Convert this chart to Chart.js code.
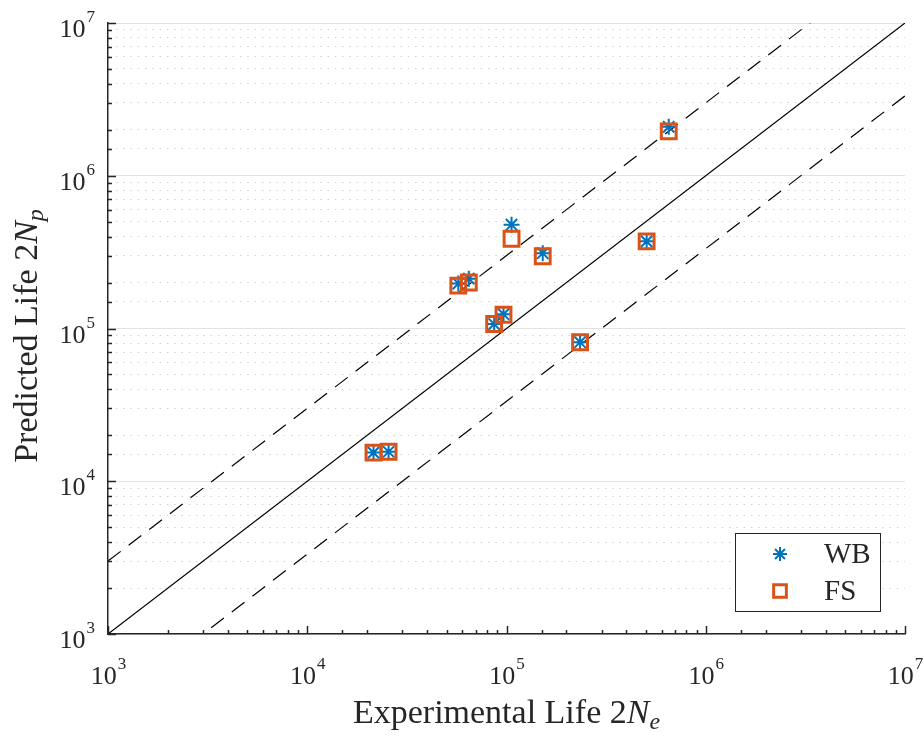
<!DOCTYPE html>
<html>
<head>
<meta charset="utf-8">
<script src="https://cdn.jsdelivr.net/npm/chart.js@4.4.1/dist/chart.umd.min.js"></script>
<style>
    html, body { margin: 0; padding: 0; background: #ffffff; }
    #lifeChart { display: block; }
</style>
</head>
<body>
<canvas id="lifeChart" width="924" height="738"></canvas>
<script>
// experimental life 2Ne (x) and predicted life 2Np (y)
const experimentalLife = [21500, 25600, 57300, 64700, 86700, 96600, 106000, 152000, 234000, 505000, 652000];
const predictedWB = [15400, 15600, 197000, 212000, 107000, 124000, 478000, 311000, 81300, 372000, 2090000];
const predictedFS = [15400, 15600, 191000, 200000, 107000, 123000, 387000, 297000, 81300, 372000, 1950000];
const seriesNames = ['WB', 'FS'];
const bandFactors = [1 / 3, 1, 3];
const axisRange = [1e3, 1e7];

const AXIS_COLOR = '#262626';
const SERIF = '"Liberation Serif", "Times New Roman", serif';
const WB_COLOR = '#0072BD';
const FS_COLOR = '#D95319';

function toPoints(xs, ys) {
    return xs.map(function(x, i) { return { x: x, y: ys[i] }; });
}

function bandLine(f) {
    return axisRange.map(function(v) { return { x: v, y: v * f }; });
}

function isDecade(v) {
    const l = Math.log10(v);
    return Math.abs(l - Math.round(l)) < 1e-9;
}

// "10" with a raised exponent
function drawPower(ctx, n, x, baseY, align) {
    ctx.font = '26px ' + SERIF;
    const w1 = ctx.measureText('10').width;
    ctx.font = '17px ' + SERIF;
    const w2 = ctx.measureText(String(n)).width;
    const start = align === 'right' ? x - w1 - w2 : x - (w1 + w2) / 2;
    ctx.textAlign = 'left';
    ctx.textBaseline = 'alphabetic';
    ctx.font = '26px ' + SERIF;
    ctx.fillText('10', start, baseY);
    ctx.font = '17px ' + SERIF;
    ctx.fillText(String(n), start + w1 + 1, baseY - 15);
}

// plain text + italic N + italic subscript, centered at x
function drawLifeTitle(ctx, text, sub, cx, baseY) {
    ctx.textAlign = 'left';
    ctx.textBaseline = 'alphabetic';
    ctx.font = '34px ' + SERIF;
    const w1 = ctx.measureText(text).width;
    ctx.font = 'italic 34px ' + SERIF;
    const w2 = ctx.measureText('N').width;
    ctx.font = 'italic 24px ' + SERIF;
    const w3 = ctx.measureText(sub).width;
    let x = cx - (w1 + w2 + w3) / 2;
    ctx.font = '34px ' + SERIF;
    ctx.fillText(text, x, baseY);
    x += w1;
    ctx.font = 'italic 34px ' + SERIF;
    ctx.fillText('N', x, baseY);
    x += w2;
    ctx.font = 'italic 24px ' + SERIF;
    ctx.fillText(sub, x, baseY + 6);
}

const decorations = {
    id: 'decorations',
    afterDraw: function(chart) {
        const ctx = chart.ctx;
        const area = chart.chartArea;
        const xs = chart.scales.x;
        const ys = chart.scales.y;
        ctx.save();

        // inward ticks
        ctx.strokeStyle = AXIS_COLOR;
        ctx.lineWidth = 1.5;
        ctx.beginPath();
        xs.ticks.forEach(function(t) {
            const px = Math.round(xs.getPixelForValue(t.value)) + 0.5;
            const len = isDecade(t.value) ? 8 : 4;
            ctx.moveTo(px, area.bottom);
            ctx.lineTo(px, area.bottom - len);
        });
        ys.ticks.forEach(function(t) {
            const py = Math.round(ys.getPixelForValue(t.value)) + 0.5;
            const len = isDecade(t.value) ? 8 : 4;
            ctx.moveTo(area.left, py);
            ctx.lineTo(area.left + len, py);
        });
        ctx.stroke();

        // tick labels
        ctx.fillStyle = AXIS_COLOR;
        xs.ticks.forEach(function(t) {
            if (!isDecade(t.value)) return;
            drawPower(ctx, Math.round(Math.log10(t.value)), xs.getPixelForValue(t.value), area.bottom + 50, 'center');
        });
        ys.ticks.forEach(function(t) {
            if (!isDecade(t.value)) return;
            drawPower(ctx, Math.round(Math.log10(t.value)), area.left - 14, ys.getPixelForValue(t.value) + 14, 'right');
        });

        // axis titles
        drawLifeTitle(ctx, 'Experimental Life 2', 'e', (area.left + area.right) / 2, 723);
        ctx.save();
        ctx.translate(37, 336);
        ctx.rotate(-Math.PI / 2);
        drawLifeTitle(ctx, 'Predicted Life 2', 'p', 0, 0);
        ctx.restore();

        // legend box
        const lx = 735.5, ly = 533.5, lw = 145, lh = 78;
        ctx.fillStyle = '#ffffff';
        ctx.fillRect(lx, ly, lw, lh);
        ctx.strokeStyle = AXIS_COLOR;
        ctx.lineWidth = 1;
        ctx.strokeRect(lx, ly, lw, lh);

        const sets = chart.data.datasets;
        const rows = [554, 591];
        for (let i = 0; i < 2; i++) {
            const ds = sets[i];
            ctx.strokeStyle = ds.pointBorderColor;
            ctx.fillStyle = 'rgba(0,0,0,0)';
            ctx.lineWidth = ds.pointBorderWidth;
            Chart.helpers.drawPoint(ctx, {
                pointStyle: ds.pointStyle,
                radius: i === 0 ? 7 : 9,
                rotation: 0,
                borderWidth: ds.pointBorderWidth
            }, 780, rows[i]);
            ctx.fillStyle = AXIS_COLOR;
            ctx.font = '29px ' + SERIF;
            ctx.textAlign = 'left';
            ctx.textBaseline = 'middle';
            ctx.fillText(ds.label, 824, rows[i] + 1);
        }
        ctx.restore();
    }
};

const lineStyle = {
    showLine: true,
    pointRadius: 0,
    borderColor: '#000000',
    borderWidth: 1.2,
    fill: false,
    order: 5
};

new Chart(document.getElementById('lifeChart').getContext('2d'), {
    type: 'scatter',
    data: {
        datasets: [
            {
                label: seriesNames[0],
                data: toPoints(experimentalLife, predictedWB),
                pointStyle: 'star',
                pointRadius: 8,
                pointBorderColor: WB_COLOR,
                pointBackgroundColor: WB_COLOR,
                pointBorderWidth: 2,
                order: 2
            },
            {
                label: seriesNames[1],
                data: toPoints(experimentalLife, predictedFS),
                pointStyle: 'rect',
                pointRadius: 10.5,
                pointBorderColor: FS_COLOR,
                pointBackgroundColor: 'rgba(0,0,0,0)',
                pointBorderWidth: 3,
                order: 1
            },
            Object.assign({ label: 'lower', data: bandLine(bandFactors[0]), borderDash: [16, 10] }, lineStyle),
            Object.assign({ label: 'equal', data: bandLine(bandFactors[1]) }, lineStyle),
            Object.assign({ label: 'upper', data: bandLine(bandFactors[2]), borderDash: [16, 10] }, lineStyle)
        ]
    },
    options: {
        responsive: false,
        devicePixelRatio: 1,
        animation: false,
        events: [],
        layout: { padding: { left: 108, top: 23, right: 19, bottom: 104 } },
        plugins: {
            legend: { display: false },
            tooltip: { enabled: false }
        },
        scales: {
            x: {
                type: 'logarithmic',
                min: axisRange[0],
                max: axisRange[1],
                afterFit: function(scale) { scale.height = 0; },
                ticks: { display: false, autoSkip: false },
                grid: { display: false, drawTicks: false },
                border: { display: true, color: AXIS_COLOR, width: 1.5 }
            },
            y: {
                type: 'logarithmic',
                min: axisRange[0],
                max: axisRange[1],
                afterFit: function(scale) { scale.width = 0; },
                ticks: { display: false, autoSkip: false },
                grid: {
                    drawTicks: false,
                    lineWidth: 1,
                    color: function(c) {
                        return c.tick && isDecade(c.tick.value) ? '#e2e2e2' : '#d2d2d2';
                    }
                },
                border: {
                    display: true,
                    color: AXIS_COLOR,
                    width: 1.5,
                    dash: function(c) {
                        return c.tick && isDecade(c.tick.value) ? [] : [1.5, 5.8];
                    }
                }
            }
        }
    },
    plugins: [decorations]
});
</script>
</body>
</html>
